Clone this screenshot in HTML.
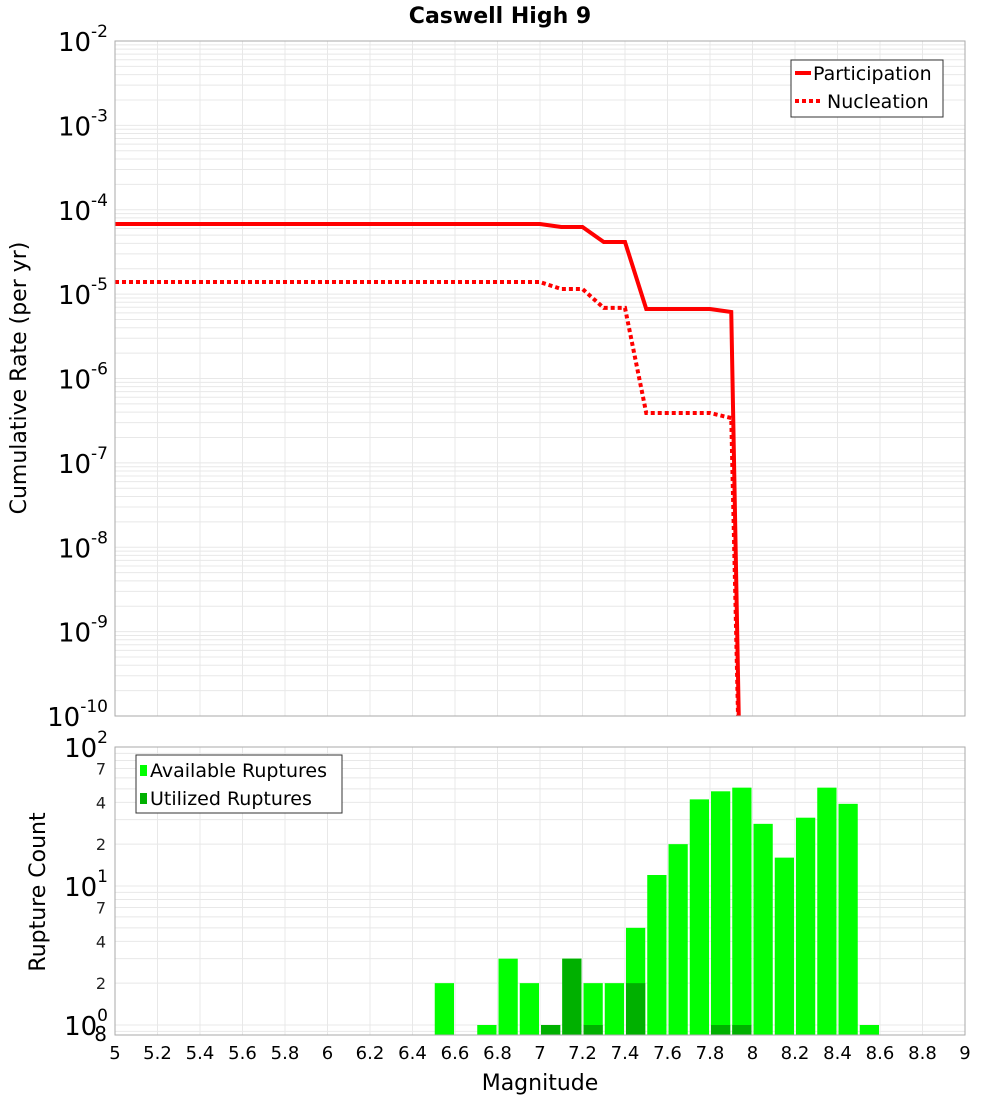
<!DOCTYPE html>
<html><head><meta charset="utf-8"><style>
body{margin:0;background:#fff;}
svg{display:block;font-family:"DejaVu Sans","Liberation Sans",sans-serif;}
</style></head><body>
<svg id="c" width="1000" height="1100" viewBox="0 0 1000 1100" xmlns="http://www.w3.org/2000/svg">
<text x="500" y="23" text-anchor="middle" font-size="22" font-weight="bold">Caswell High 9</text>
<g id="topg"></g><g id="botg"></g>
</svg>
<script>
const partMags=[5.0,5.1,5.2,5.3,5.4,5.5,5.6,5.7,5.8,5.9,6.0,6.1,6.2,6.3,6.4,6.5,6.6,6.7,6.8,6.9,7.0,7.1,7.2,7.3,7.4,7.5,7.6,7.7,7.8,7.9,7.95];
const partVals=[6.78e-5,6.78e-5,6.78e-5,6.78e-5,6.78e-5,6.78e-5,6.78e-5,6.78e-5,6.78e-5,6.78e-5,6.78e-5,6.78e-5,6.78e-5,6.78e-5,6.78e-5,6.78e-5,6.78e-5,6.78e-5,6.78e-5,6.78e-5,6.78e-5,6.25e-5,6.25e-5,4.15e-5,4.15e-5,6.67e-6,6.67e-6,6.67e-6,6.67e-6,6.14e-6,1e-12];
const nuclVals=[1.39e-5,1.39e-5,1.39e-5,1.39e-5,1.39e-5,1.39e-5,1.39e-5,1.39e-5,1.39e-5,1.39e-5,1.39e-5,1.39e-5,1.39e-5,1.39e-5,1.39e-5,1.39e-5,1.39e-5,1.39e-5,1.39e-5,1.39e-5,1.39e-5,1.15e-5,1.15e-5,6.86e-6,6.86e-6,3.9e-7,3.9e-7,3.9e-7,3.9e-7,3.4e-7,1e-12];
const binStarts=[6.5,6.6,6.7,6.8,6.9,7.0,7.1,7.2,7.3,7.4,7.5,7.6,7.7,7.8,7.9,8.0,8.1,8.2,8.3,8.4,8.5];
const availCounts=[2,0,1,3,2,1,3,2,2,5,12,20,42,48,51,28,16,31,51,39,1];
const usedCounts=[0,0,0,0,0,1,3,1,0,2,0,0,0,1,1,0,0,0,0,0,0];
const xTicks=["5","5.2","5.4","5.6","5.8","6","6.2","6.4","6.6","6.8","7","7.2","7.4","7.6","7.8","8","8.2","8.4","8.6","8.8","9"];

const NS="http://www.w3.org/2000/svg";
function mk(parent,tag,attrs,txt){const e=document.createElementNS(NS,tag);for(const k in attrs)e.setAttribute(k,attrs[k]);if(txt!==undefined)e.textContent=txt;parent.appendChild(e);return e;}
const L=115,R=965;
const xS=m=>L+(m-5)/4*(R-L);
const T0=41,T1=716;
const yT=v=>T0+(-2-Math.log10(v))/8*(T1-T0);
const B0=747,B1=1035,bDec=139;
const yB=v=>B0+(2-Math.log10(v))*bDec;

const topG=document.getElementById('topg');
const botG=document.getElementById('botg');
const defs=mk(document.getElementById('c'),'defs',{});
const cp=mk(defs,'clipPath',{id:'cpT'});mk(cp,'rect',{x:L,y:T0,width:R-L,height:T1-T0});
const cp2=mk(defs,'clipPath',{id:'cpB'});mk(cp2,'rect',{x:L,y:B0,width:R-L,height:B1-B0});

const gT=mk(topG,'g',{});


for(let d=-10;d<-2;d++){for(let k=1;k<10;k++){const y=yT(k*Math.pow(10,d));mk(gT,'line',{x1:L,x2:R,y1:y,y2:y,stroke:'#e8e8e8','stroke-width':1});}}
for(let i=0;i<=20;i++){const x=xS(5+i*0.2);mk(gT,'line',{x1:x,x2:x,y1:T0,y2:T1,stroke:'#e8e8e8','stroke-width':1});
 mk(gT,'line',{x1:x,x2:x,y1:B0,y2:B1,stroke:'#e8e8e8','stroke-width':1});}
for(let d=0;d<2;d++){for(let k=1;k<10;k++){const y=yB(k*Math.pow(10,d));if(y<B1)mk(gT,'line',{x1:L,x2:R,y1:y,y2:y,stroke:'#e8e8e8','stroke-width':1});}}
{const y=yB(0.9);mk(gT,'line',{x1:L,x2:R,y1:y,y2:y,stroke:'#e8e8e8','stroke-width':1});}

for(let d=-10;d<=-2;d++){const y=yT(Math.pow(10,d));const t=mk(topG,'text',{x:108,y:y+10,'text-anchor':'end','font-size':26});
 
 
 t.textContent='10';mk(t,'tspan',{dy:-14,'font-size':17},String(d));}
const yt=mk(topG,'text',{x:0,y:0,transform:'translate(26,378) rotate(-90)','text-anchor':'middle','font-size':22},'Cumulative Rate (per yr)');



function pts(vals){return partMags.map((m,i)=>xS(m)+','+yT(vals[i])).join(' ');}
const lp=mk(topG,'polyline',{points:pts(partVals),fill:'none',stroke:'#ff0000','stroke-width':4,'clip-path':'url(#cpT)'});


const ln=mk(topG,'polyline',{points:pts(nuclVals),fill:'none',stroke:'#ff0000','stroke-width':4,'stroke-dasharray':'4 3','clip-path':'url(#cpT)'});


const fT=mk(topG,'rect',{x:L,y:T0,width:R-L,height:T1-T0,fill:'none',stroke:'#aaa'});



const lg=mk(topG,'g',{});


mk(lg,'rect',{x:791,y:60,width:152,height:57,fill:'#fff',stroke:'#333'});
mk(lg,'line',{x1:795,x2:811,y1:73,y2:73,stroke:'#f00','stroke-width':4});
mk(lg,'text',{x:813,y:80,'font-size':19},'Participation');
mk(lg,'line',{x1:795,x2:821,y1:101,y2:101,stroke:'#f00','stroke-width':4,'stroke-dasharray':'4 3'});
mk(lg,'text',{x:827,y:108,'font-size':19},'Nucleation');

const bw=(R-L)/40;
binStarts.forEach((m,i)=>{
 if(availCounts[i]>0){const y=yB(availCounts[i]);const r=mk(botG,'rect',{x:xS(m)+1,y:y,width:bw-2,height:B1-y,fill:'#00ff00','clip-path':'url(#cpB)'});
  
  }
 if(usedCounts[i]>0){const y=yB(usedCounts[i]);const r=mk(botG,'rect',{x:xS(m)+1,y:y,width:bw-2,height:B1-y,fill:'#00b000','clip-path':'url(#cpB)'});
  
  }
});
const fB=mk(botG,'rect',{x:L,y:B0,width:R-L,height:B1-B0,fill:'none',stroke:'#aaa'});



[[2,B0],[1,yB(10)],[0,yB(1)]].forEach(([d,y])=>{const t=mk(botG,'text',{x:108,y:y+10,'text-anchor':'end','font-size':26});
 
 
 t.textContent='10';mk(t,'tspan',{dy:-14,'font-size':17},String(d));});
[[7,70],[4,40],[2,20],[7,7],[4,4],[2,2]].forEach(([lab,v])=>{const t=mk(botG,'text',{x:106,y:yB(v)+6,'text-anchor':'end','font-size':16,fill:'#222'},String(lab));
 
 });
{const t=mk(botG,'text',{x:107,y:1041,'text-anchor':'end','font-size':20},'8');
 
 }
const yb=mk(botG,'text',{x:0,y:0,transform:'translate(45,892) rotate(-90)','text-anchor':'middle','font-size':22},'Rupture Count');



xTicks.forEach((s,i)=>{const t=mk(botG,'text',{x:xS(5+i*0.2),y:1059,'text-anchor':'middle','font-size':18},s);
 
 });
const xt=mk(botG,'text',{x:540,y:1090,'text-anchor':'middle','font-size':22},'Magnitude');



const lb=mk(botG,'g',{});


mk(lb,'rect',{x:136,y:755,width:206,height:58,fill:'#fff',stroke:'#333'});
mk(lb,'rect',{x:140,y:765,width:7,height:11,fill:'#00ff00'});
mk(lb,'text',{x:150,y:777,'font-size':19},'Available Ruptures');
mk(lb,'rect',{x:140,y:793,width:7,height:11,fill:'#00b000'});
mk(lb,'text',{x:150,y:805,'font-size':19},'Utilized Ruptures');
</script>
</body></html>
